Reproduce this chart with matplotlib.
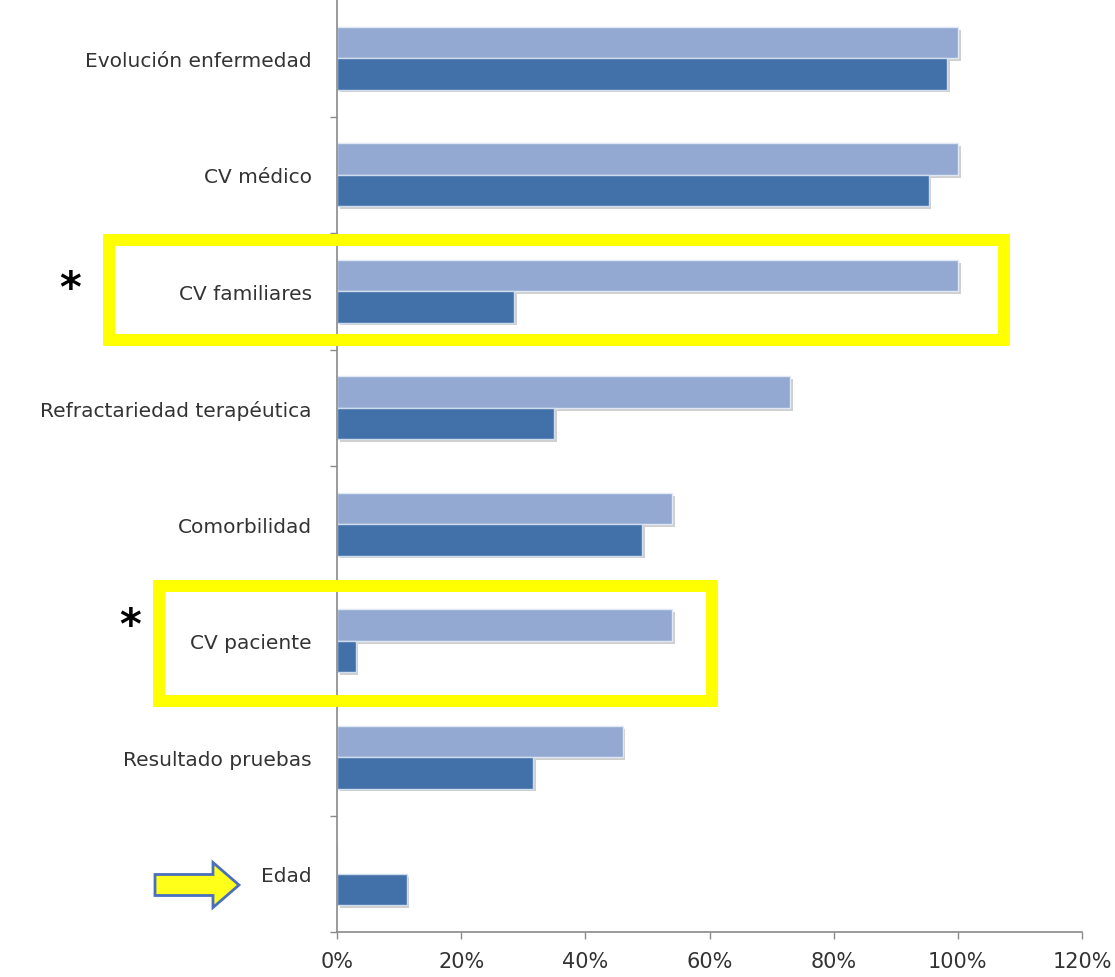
import matplotlib
matplotlib.use("Agg")
import matplotlib.pyplot as plt
import matplotlib.patheffects as pe
from matplotlib.patches import Rectangle, FancyArrow
import numpy as np

categories = ["Evolución enfermedad", "CV médico", "CV familiares",
              "Refractariedad terapéutica", "Comorbilidad", "CV paciente",
              "Resultado pruebas", "Edad"]
serie_clara = [100, 100, 100, 73, 54, 54, 46, 0]
serie_oscura = [98.3, 95.3, 28.5, 35, 49.2, 3.0, 31.6, 11.2]
xticks = [0, 20, 40, 60, 80, 100, 120]
xtick_labels = ["0%", "20%", "40%", "60%", "80%", "100%", "120%"]

W, H = 1115, 978
fig = plt.figure(figsize=(W / 100, H / 100), dpi=100)
fig.patch.set_facecolor("white")

ax_left, ax_right, ax_top, ax_bottom = 337, 1082, 1, 933
ax = fig.add_axes([ax_left / W, 1 - ax_bottom / H, (ax_right - ax_left) / W,
                   (ax_bottom - ax_top) / H])

y = np.arange(len(categories))
h = 0.27
light = "#93a9d1"
dark = "#4270a9"
shadow = [pe.SimplePatchShadow(offset=(2, -2), shadow_rgbFace="#777777", alpha=0.35), pe.Normal()]
b1 = ax.barh(y - h / 2, serie_clara, height=h, color=light, edgecolor="#dfe8f4", linewidth=1.0)
b2 = ax.barh(y + h / 2, serie_oscura, height=h, color=dark, edgecolor="#cfdcee", linewidth=1.0)
for b in list(b1) + list(b2):
    if b.get_width() > 0:
        b.set_path_effects(shadow)

ax.set_xlim(0, 120)
ax.set_ylim(len(categories) - 0.5, -0.5)

for s in ["top", "right"]:
    ax.spines[s].set_visible(False)
for s in ["left", "bottom"]:
    ax.spines[s].set_color("#8a8a8a")
    ax.spines[s].set_linewidth(1.2)

ax.set_xticks(xticks)
ax.set_xticklabels(xtick_labels, fontsize=15, color="#333333")
ax.tick_params(axis="x", direction="out", length=5, width=1, color="#8a8a8a", pad=9)

ax.set_yticks(y)
ax.set_yticklabels(categories, fontsize=14.5, color="#333333")
ax.tick_params(axis="y", which="major", length=0, pad=18)
ax.set_yticks(np.arange(0.5, len(categories) + 0.5, 1), minor=True)
ax.tick_params(axis="y", which="minor", direction="out", length=5, width=1, color="#8a8a8a")

# yellow highlight boxes (figure pixel coords)
def px_rect(x0, y0, x1, y1):
    return Rectangle((x0 / W, 1 - y1 / H), (x1 - x0) / W, (y1 - y0) / H,
                     transform=fig.transFigure, fill=False, edgecolor="#ffff00",
                     linewidth=8.6, zorder=10)

fig.patches.append(px_rect(109, 241, 1004, 341))
fig.patches.append(px_rect(159, 587, 712, 702))

fig.text(70 / W, 1 - 290 / H, "*", fontsize=30, fontweight="bold", ha="center", va="center")
fig.text(130 / W, 1 - 627 / H, "*", fontsize=30, fontweight="bold", ha="center", va="center")

# arrow
arr = FancyArrow(155 / W, 1 - 886 / H, 58 / W, 0, width=21 / H, head_width=45 / H,
                 head_length=26 / W, length_includes_head=False,
                 transform=fig.transFigure, facecolor="#ffff1a", edgecolor="#4a6fc0",
                 linewidth=2, zorder=10)
fig.patches.append(arr)

fig.savefig("out.png", dpi=100)
